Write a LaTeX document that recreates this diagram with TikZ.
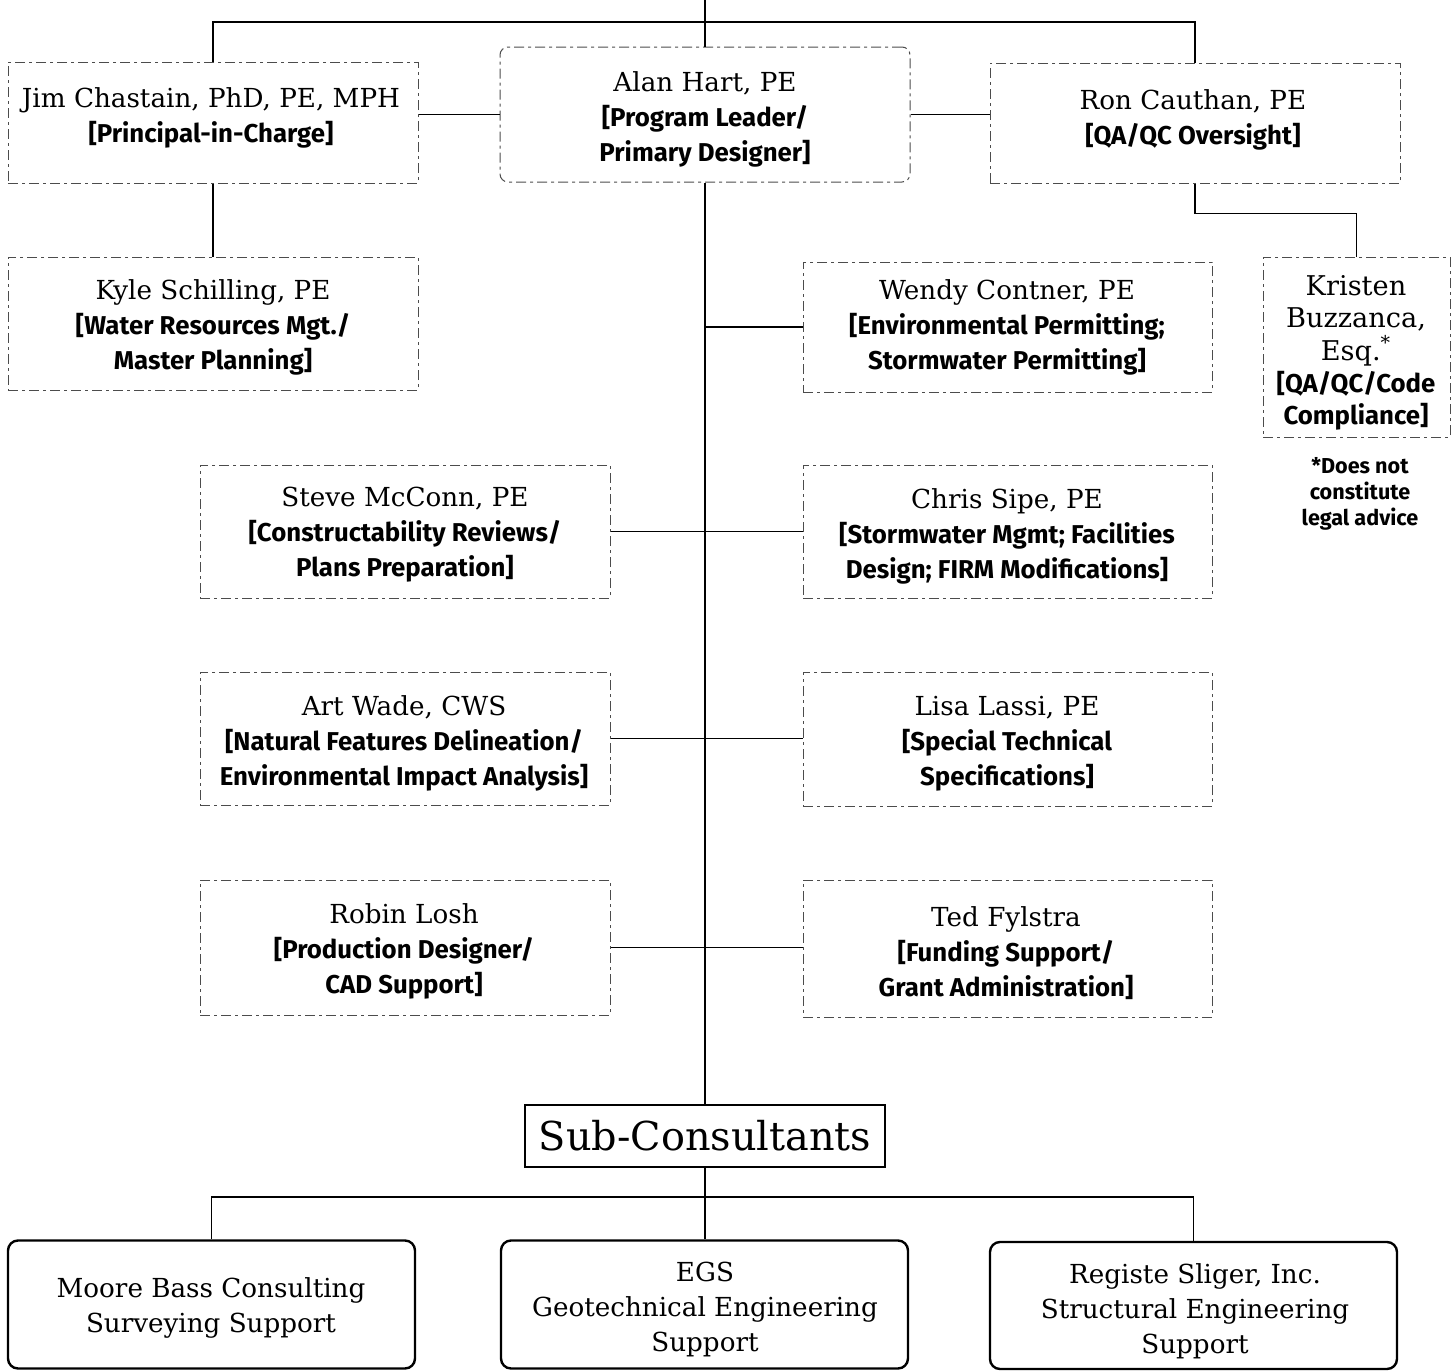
\documentclass[tikz,border=0pt]{standalone}
\usepackage{fontspec}
\setmainfont{DejaVu Serif}
\newfontfamily\rolefont{Fira Sans}
\newcommand\roletext[1]{{\rolefont\bfseries\fontsize{12.9}{17.5}\selectfont #1}}
\tikzset{
  person/.style={draw=black!70, line width=0.5pt, dash pattern=on 5pt off 2pt on 1.5pt off 2pt,
    inner sep=0pt},
  txt/.style={align=center, inner sep=0pt, font=\fontsize{13.1}{17.5}\selectfont},
  wire/.style={line width=0.9pt},
  subbox/.style={draw, line width=0.75pt, inner sep=0pt, font=\fontsize{19.9}{26}\selectfont},
  firm/.style={draw, line width=1.2pt, rounded corners=5pt, inner sep=0pt,
    minimum width=203.5pt, minimum height=64pt},
  firmtxt/.style={align=center, inner sep=0pt, font=\fontsize{13.1}{17.5}\selectfont}
}
\begin{document}
\begin{tikzpicture}[x=0.5pt,y=-0.5pt]
\useasboundingbox (0,0) rectangle (1453,1371);

% boxes
\node[person, minimum width=205pt, minimum height=60.5pt] (jim) at (213,122.5) {};
\node[person, rounded corners=4pt, minimum width=205pt, minimum height=67.5pt] (alan) at (705,114.5) {};
\node[person, minimum width=205pt, minimum height=60pt] (ron) at (1195,123) {};
\node[person, minimum width=205pt, minimum height=66.5pt] (kyle) at (213,323.5) {};
\node[person, minimum width=204.5pt, minimum height=65pt] (wendy) at (1007.5,327) {};
\node[person, minimum width=93.5pt, minimum height=90pt] (kris) at (1356.5,347) {};
\node[person, minimum width=205pt, minimum height=66.5pt] (steve) at (405,531.5) {};
\node[person, minimum width=204.5pt, minimum height=66.5pt] (chris) at (1007.5,531.5) {};
\node[person, minimum width=205pt, minimum height=66.5pt] (art) at (405,738.5) {};
\node[person, minimum width=204.5pt, minimum height=67pt] (lisa) at (1007.5,739) {};
\node[person, minimum width=205pt, minimum height=67.5pt] (robin) at (405,947.5) {};
\node[person, minimum width=204.5pt, minimum height=68.5pt] (ted) at (1007.5,948.5) {};
\node[subbox, minimum width=180pt, minimum height=31pt] (sub) at (705,1136) {Sub-Consultants};
\node[firm] (moore) at (211.5,1304.5) {};
\node[firm] (egs) at (704.5,1304.5) {};
\node[firm, minimum height=63.5pt] (reg) at (1193.5,1305.5) {};

% texts
\node[txt] (jimt) at (211,117.5) {Jim Chastain, PhD, PE, MPH\\\roletext{[Principal-in-Charge]}};
\node[txt] (alant) at (705,119) {Alan Hart, PE\\\roletext{[Program Leader/}\\\roletext{Primary Designer]}};
\node[txt] (ront) at (1193,119.5) {Ron Cauthan, PE\\\roletext{[QA/QC Oversight]}};
\node[txt] (kylet) at (213,327.5) {Kyle Schilling, PE\\\roletext{[Water Resources Mgt./}\\\roletext{Master Planning]}};
\node[txt] (wendyt) at (1007,327.5) {Wendy Contner, PE\\\roletext{[Environmental Permitting;}\\\roletext{Stormwater Permitting]}};
\node[txt, font=\fontsize{13.6}{16.2}\selectfont] (krist) at (1356,353)
  {Kristen\\Buzzanca,\\Esq.\textsuperscript{*}\\{\rolefont\bfseries\fontsize{12.9}{16.2}\selectfont [QA/QC/Code}\\{\rolefont\bfseries\fontsize{12.9}{16.2}\selectfont Compliance]}};
\node[align=center, inner sep=0pt, font=\rolefont\bfseries\fontsize{10.8}{13}\selectfont] (note) at (1360,494)
  {*Does not\\constitute\\legal advice};
\node[txt] (stevet) at (405,534.5) {Steve McConn, PE\\\roletext{[Constructability Reviews/}\\\roletext{Plans Preparation]}};
\node[txt] (christ) at (1007,536.5) {Chris Sipe, PE\\\roletext{[Stormwater Mgmt; Facilities}\\\roletext{Design; FIRM Modifications]}};
\node[txt] (artt) at (404,743) {Art Wade, CWS\\\roletext{[Natural Features Delineation/}\\\roletext{Environmental Impact Analysis]}};
\node[txt] (lisat) at (1007,744) {Lisa Lassi, PE\\\roletext{[Special Technical}\\\roletext{Specifications]}};
\node[txt] (robint) at (404,951) {Robin Losh\\\roletext{[Production Designer/}\\\roletext{CAD Support]}};
\node[txt] (tedt) at (1006,953) {Ted Fylstra\\\roletext{[Funding Support/}\\\roletext{Grant Administration]}};
\node[firmtxt] (mooret) at (211,1307.5) {Moore Bass Consulting\\Surveying Support};
\node[firmtxt] (egst) at (705,1309.5) {EGS\\Geotechnical Engineering\\Support};
\node[firmtxt] (regt) at (1195,1311.5) {Registe Sliger, Inc.\\Structural Engineering\\Support};

% connectors
\coordinate (top) at (705,-2);
\coordinate (bar) at (705,22);
\coordinate (sbar) at (705,1197);

\draw[wire] (top) -- (alan.north);
\draw[wire] (jim.north) |- (bar) -| (ron.north);
\draw[wire] (alan.west -| jim.east) -- (alan.west);
\draw[wire] (alan.east) -- (alan.east -| ron.west);
\draw[wire] (jim.south) -- (kyle.north);
\draw[wire] (ron.south) -- ++(0,30) -| (kris.north);
\draw[wire] (alan.south) -- (sub.north);
\draw[wire] (wendy.west -| alan.south) -- (wendy.west);
\draw[wire] (steve.east) -- (steve.east -| chris.west);
\draw[wire] (art.east) -- (art.east -| lisa.west);
\draw[wire] (robin.east) -- (robin.east -| ted.west);
\draw[wire] (sub.south) -- (sub.south |- sbar);
\draw[wire] (sub.south |- sbar) -- (sub.south |- egs.north);
\draw[wire] (moore.north) |- (sbar) -| (reg.north);
\end{tikzpicture}
\end{document}
